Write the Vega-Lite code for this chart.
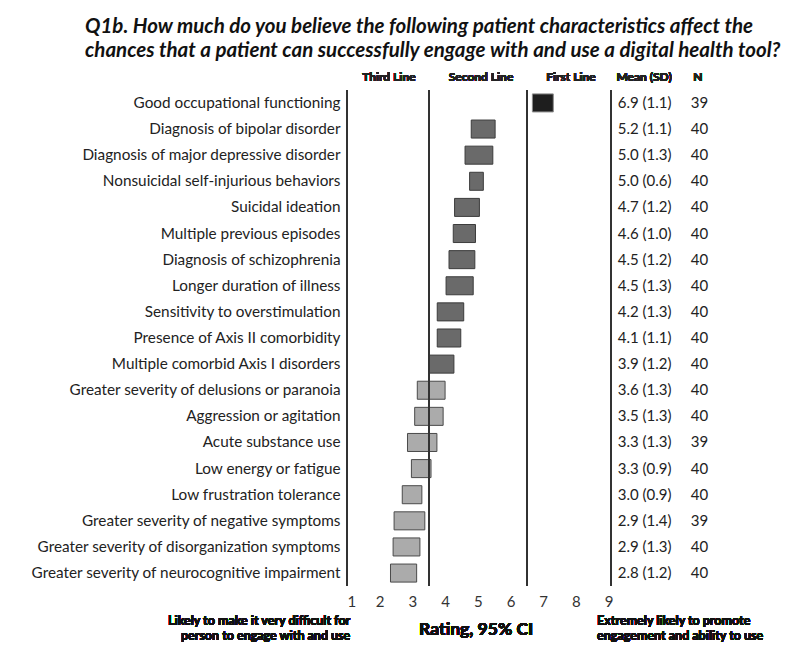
{
  "$schema": "https://vega.github.io/schema/vega-lite/v6.json",
  "autosize": "none",
  "width": 376,
  "height": 496,
  "padding": {"left": 347, "top": 90, "right": 75, "bottom": 65},
  "background": "white",
  "config": {"font": "Lato", "view": {"stroke": null}},
  "title": {
    "text": ["Q1b. How much do you believe the following patient characteristics affect the", "chances that a patient can successfully engage with and use a digital health tool?"],
    "anchor": "start",
    "frame": "group",
    "dx": -262,
    "offset": 9,
    "font": "Lato",
    "fontSize": 20.5,
    "fontWeight": "bold",
    "fontStyle": "italic",
    "color": "#111111",
    "lineHeight": 24
  },
  "data": {
    "values": [
      {"label": "Good occupational functioning", "lo": 6.67, "hi": 7.31, "meansd": "6.9 (1.1)", "n": 39, "tier": "First Line"},
      {"label": "Diagnosis of bipolar disorder", "lo": 4.80, "hi": 5.53, "meansd": "5.2 (1.1)", "n": 40, "tier": "Second Line"},
      {"label": "Diagnosis of major depressive disorder", "lo": 4.61, "hi": 5.46, "meansd": "5.0 (1.3)", "n": 40, "tier": "Second Line"},
      {"label": "Nonsuicidal self-injurious behaviors", "lo": 4.75, "hi": 5.17, "meansd": "5.0 (0.6)", "n": 40, "tier": "Second Line"},
      {"label": "Suicidal ideation", "lo": 4.29, "hi": 5.05, "meansd": "4.7 (1.2)", "n": 40, "tier": "Second Line"},
      {"label": "Multiple previous episodes", "lo": 4.25, "hi": 4.93, "meansd": "4.6 (1.0)", "n": 40, "tier": "Second Line"},
      {"label": "Diagnosis of schizophrenia", "lo": 4.12, "hi": 4.91, "meansd": "4.5 (1.2)", "n": 40, "tier": "Second Line"},
      {"label": "Longer duration of illness", "lo": 4.03, "hi": 4.86, "meansd": "4.5 (1.3)", "n": 40, "tier": "Second Line"},
      {"label": "Sensitivity to overstimulation", "lo": 3.76, "hi": 4.57, "meansd": "4.2 (1.3)", "n": 40, "tier": "Second Line"},
      {"label": "Presence of Axis II comorbidity", "lo": 3.76, "hi": 4.48, "meansd": "4.1 (1.1)", "n": 40, "tier": "Second Line"},
      {"label": "Multiple comorbid Axis I disorders", "lo": 3.51, "hi": 4.27, "meansd": "3.9 (1.2)", "n": 40, "tier": "Second Line"},
      {"label": "Greater severity of delusions or paranoia", "lo": 3.15, "hi": 4.0, "meansd": "3.6 (1.3)", "n": 40, "tier": "Third Line"},
      {"label": "Aggression or agitation", "lo": 3.07, "hi": 3.94, "meansd": "3.5 (1.3)", "n": 40, "tier": "Third Line"},
      {"label": "Acute substance use", "lo": 2.85, "hi": 3.75, "meansd": "3.3 (1.3)", "n": 39, "tier": "Third Line"},
      {"label": "Low energy or fatigue", "lo": 2.97, "hi": 3.57, "meansd": "3.3 (0.9)", "n": 40, "tier": "Third Line"},
      {"label": "Low frustration tolerance", "lo": 2.69, "hi": 3.29, "meansd": "3.0 (0.9)", "n": 40, "tier": "Third Line"},
      {"label": "Greater severity of negative symptoms", "lo": 2.44, "hi": 3.38, "meansd": "2.9 (1.4)", "n": 39, "tier": "Third Line"},
      {"label": "Greater severity of disorganization symptoms", "lo": 2.41, "hi": 3.23, "meansd": "2.9 (1.3)", "n": 40, "tier": "Third Line"},
      {"label": "Greater severity of neurocognitive impairment", "lo": 2.33, "hi": 3.13, "meansd": "2.8 (1.2)", "n": 40, "tier": "Third Line"}
    ]
  },
  "layer": [
    {
      "mark": {"type": "bar", "strokeWidth": 1},
      "encoding": {
        "y": {
          "field": "label",
          "type": "nominal",
          "sort": null,
          "scale": {"paddingInner": 0.31, "paddingOuter": 0.15},
          "axis": {
            "title": null,
            "ticks": false,
            "domain": false,
            "labelFont": "Lato",
            "labelFontSize": 15.3,
            "labelColor": "#222222",
            "labelPadding": 7,
            "labelLimit": 400
          }
        },
        "x": {
          "field": "lo",
          "type": "quantitative",
          "scale": {"domain": [1, 12.5], "nice": false, "zero": false},
          "axis": {
            "values": [1, 2, 3, 4, 5, 6, 7, 8, 9],
            "title": null,
            "grid": false,
            "ticks": false,
            "domain": false,
            "labelFont": "Lato",
            "labelFontSize": 15,
            "labelColor": "#333333",
            "labelPadding": 8
          }
        },
        "x2": {"field": "hi"},
        "color": {
          "field": "tier",
          "type": "nominal",
          "scale": {"domain": ["First Line", "Second Line", "Third Line"], "range": ["#1e1e1e", "#6a6a6a", "#ababab"]},
          "legend": null
        },
        "stroke": {
          "field": "tier",
          "type": "nominal",
          "scale": {"domain": ["First Line", "Second Line", "Third Line"], "range": ["#8c8c8c", "#3c3c3c", "#4a4a4a"]},
          "legend": null
        }
      }
    },
    {"mark": {"type": "rule", "color": "#333333", "strokeWidth": 1.2}, "encoding": {"x": {"datum": 1}}},
    {"mark": {"type": "rule", "color": "#333333", "strokeWidth": 1.2}, "encoding": {"x": {"datum": 3.5}}},
    {"mark": {"type": "rule", "color": "#333333", "strokeWidth": 1.2}, "encoding": {"x": {"datum": 6.5}}},
    {"mark": {"type": "rule", "color": "#333333", "strokeWidth": 1.2}, "encoding": {"x": {"datum": 9.07}}},
    {
      "mark": {"type": "text", "align": "left", "baseline": "middle", "font": "Lato", "fontSize": 15, "color": "#222222"},
      "encoding": {"x": {"datum": 9.28}, "y": {"field": "label", "type": "nominal", "sort": null}, "text": {"field": "meansd"}}
    },
    {
      "mark": {"type": "text", "align": "center", "baseline": "middle", "font": "Lato", "fontSize": 15, "color": "#222222"},
      "encoding": {"x": {"datum": 11.78}, "y": {"field": "label", "type": "nominal", "sort": null}, "text": {"field": "n"}}
    },
    {
      "mark": {"type": "text", "align": "center", "baseline": "middle", "font": "Lato", "fontSize": 12, "fontWeight": "bold", "color": "#222222", "dy": -26},
      "encoding": {"x": {"datum": 2.28}, "y": {"datum": "Good occupational functioning"}, "text": {"value": "Third Line"}}
    },
    {
      "mark": {"type": "text", "align": "center", "baseline": "middle", "font": "Lato", "fontSize": 12, "fontWeight": "bold", "color": "#222222", "dy": -26},
      "encoding": {"x": {"datum": 5.1}, "y": {"datum": "Good occupational functioning"}, "text": {"value": "Second Line"}}
    },
    {
      "mark": {"type": "text", "align": "center", "baseline": "middle", "font": "Lato", "fontSize": 12, "fontWeight": "bold", "color": "#222222", "dy": -26},
      "encoding": {"x": {"datum": 7.85}, "y": {"datum": "Good occupational functioning"}, "text": {"value": "First Line"}}
    },
    {
      "mark": {"type": "text", "align": "left", "baseline": "middle", "font": "Lato", "fontSize": 12, "fontWeight": "bold", "color": "#222222", "dy": -26},
      "encoding": {"x": {"datum": 9.24}, "y": {"datum": "Good occupational functioning"}, "text": {"value": "Mean (SD)"}}
    },
    {
      "mark": {"type": "text", "align": "center", "baseline": "middle", "font": "Lato", "fontSize": 12, "fontWeight": "bold", "color": "#222222", "dy": -26},
      "encoding": {"x": {"datum": 11.73}, "y": {"datum": "Good occupational functioning"}, "text": {"value": "N"}}
    },
    {
      "mark": {"type": "text", "align": "center", "baseline": "middle", "font": "Lato", "fontSize": 17.5, "fontWeight": "bold", "color": "#111111", "dy": 57},
      "encoding": {"x": {"datum": 4.95}, "y": {"datum": "Greater severity of neurocognitive impairment"}, "text": {"value": "Rating, 95% CI"}}
    },
    {
      "mark": {"type": "text", "align": "right", "baseline": "top", "font": "Lato", "fontSize": 12.5, "fontWeight": "bold", "color": "#111111", "dy": 42, "lineHeight": 15},
      "encoding": {"x": {"datum": 1.1}, "y": {"datum": "Greater severity of neurocognitive impairment"}, "text": {"value": ["Likely to make it very difficult for", "person to engage with and use"]}}
    },
    {
      "mark": {"type": "text", "align": "left", "baseline": "top", "font": "Lato", "fontSize": 12.5, "fontWeight": "bold", "color": "#111111", "dy": 42, "lineHeight": 15},
      "encoding": {"x": {"datum": 8.65}, "y": {"datum": "Greater severity of neurocognitive impairment"}, "text": {"value": ["Extremely likely to promote", "engagement and ability to use"]}}
    }
  ]
}
